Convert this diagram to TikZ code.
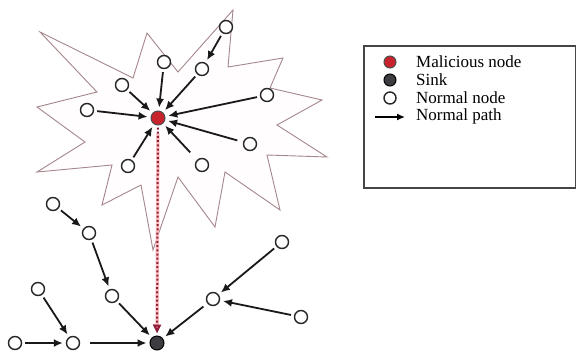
\documentclass[tikz,border=0pt]{standalone}
\usepackage{fontspec}
\setmainfont{Liberation Serif}
\usetikzlibrary{arrows.meta}
\definecolor{starline}{RGB}{165,135,140}
\definecolor{malred}{RGB}{200,35,45}
\definecolor{sinkgray}{RGB}{60,60,65}
\definecolor{dotred}{RGB}{140,30,60}
\definecolor{boxgray}{RGB}{70,70,70}
\begin{document}
\begin{tikzpicture}[x=1pt,y=-1pt,
  nnode/.style={circle,draw=black!85,line width=1.4pt,fill=white,minimum size=13pt,inner sep=0pt},
  mnode/.style={circle,draw=black!70,line width=1pt,fill=malred,minimum size=14pt,inner sep=0pt},
  snode/.style={circle,draw=black,line width=1pt,fill=sinkgray,minimum size=14pt,inner sep=0pt},
  path/.style={line width=1.8pt,black!90,-{Latex[length=9pt,width=8pt]},shorten >=3pt,shorten <=3pt},
  legtext/.style={anchor=west,inner sep=0pt,font=\rmfamily\fontsize{17}{19}\selectfont}]
\useasboundingbox (0,0) rectangle (576,360);
\fill[white] (0,0) rectangle (576,360);
% star
\draw[starline,line width=0.9pt,fill=red!0.8,line join=miter]
 (40,32) -- (133,78) -- (147,33) -- (178,72) -- (233,10) -- (228,67) -- (283,58)
 -- (270,88) -- (322,100) -- (277,125) -- (327,157) -- (267,155) -- (280,210)
 -- (225,172) -- (215,227) -- (178,177) -- (153,250) -- (141,185) -- (102,205)
 -- (112,165) -- (37,172) -- (85,142) -- (37,107) -- (97,92) -- cycle;
% nodes
\node[mnode] (M) at (158,118) {};
\node[snode] (S) at (157,343) {};
\node[nnode] (a) at (226,27) {};
\node[nnode] (b) at (202,69) {};
\node[nnode] (c) at (164,62) {};
\node[nnode] (d) at (122,85) {};
\node[nnode] (e) at (87,110) {};
\node[nnode] (f) at (267,95) {};
\node[nnode] (g) at (250,144) {};
\node[nnode] (h) at (202,165) {};
\node[nnode] (i) at (128,166) {};
\node[nnode] (j) at (53,204) {};
\node[nnode] (k) at (89,233) {};
\node[nnode] (l) at (112,296) {};
\node[nnode] (m) at (38,289) {};
\node[nnode] (n) at (73,343) {};
\node[nnode] (o) at (15,343) {};
\node[nnode] (p) at (213,299) {};
\node[nnode] (q) at (282,242) {};
\node[nnode] (r) at (301,317) {};
% malicious path
\draw[red!25,line width=3.5pt,shorten >=8pt,shorten <=8pt] (M) -- (S);
\draw[dotred,line width=2pt,dash pattern=on 2pt off 2.2pt,-{Triangle[length=9pt,width=8pt,fill=red!55]},shorten >=2pt,shorten <=2pt] (M) -- (S);
% normal paths
\draw[path] (a) -- (b);
\draw[path] (b) -- (M);
\draw[path] (c) -- (M);
\draw[path] (d) -- (M);
\draw[path] (e) -- (M);
\draw[path] (f) -- (M);
\draw[path,shorten <=6pt] (g) -- (M);
\draw[path,shorten <=10pt] (h) -- (M);
\draw[path] (i) -- (M);
\draw[path] (j) -- (k);
\draw[path] (k) -- (l);
\draw[path] (l) -- (S);
\draw[path] (m) -- (n);
\draw[path] (o) -- (n);
\draw[path,shorten <=10pt] (n) -- (S);
\draw[path] (q) -- (p);
\draw[path] (r) -- (p);
\draw[path,shorten <=5pt] (p) -- (S);
% legend
\node[draw=boxgray,line width=1.5pt,minimum width=212pt,minimum height=142pt,anchor=north west,inner sep=0pt] (box) at (363,45) {};
\node[mnode,minimum size=12pt] (lm) at (390,62) {};
\node[snode,minimum size=12pt] (ls) at (390,80) {};
\node[nnode,minimum size=12pt] (ln) at (390,98) {};
\coordinate (la) at (375,117);
\coordinate (lb) at (405,117);
\draw[line width=1.4pt,-{Latex[length=8pt,width=7pt]}] (la) -- (lb);
\node[legtext] (tm) at (416,62) {Malicious node};
\node[legtext] (ts) at (416,80) {Sink};
\node[legtext] (tn) at (416,98) {Normal node};
\node[legtext] (tp) at (416,116) {Normal path};
\end{tikzpicture}
\end{document}
